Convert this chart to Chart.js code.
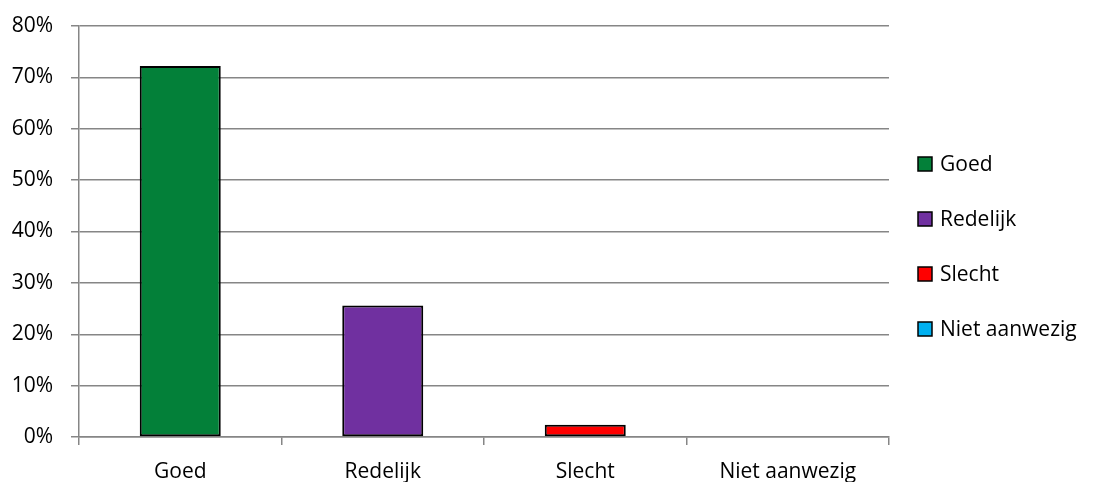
<!DOCTYPE html>
<html><head><meta charset="utf-8">
<script src="https://cdn.jsdelivr.net/npm/chart.js@4/dist/chart.umd.min.js"></script>
<style>html,body{margin:0;padding:0;background:#fff}#wrap{width:1095px;height:482px}</style>
</head><body><div id="wrap"><canvas id="c" width="1095" height="482"></canvas></div>
<script>
const categories = ['Goed', 'Redelijk', 'Slecht', 'Niet aanwezig'];
const values = [72.2, 25.6, 2.4, 0];
const colors = ['#038039', '#7030A0', '#FF0000', '#00B0F0'];
const yTicks = [0, 10, 20, 30, 40, 50, 60, 70, 80];
const FONT = '"Open Sans", Lato, sans-serif';

const legendPlugin = {
  id: 'sideLegend',
  afterDraw(chart) {
    const ctx = chart.ctx;
    ctx.save();
    const x0 = chart.chartArea.right + 29;
    const step = 55;
    const mid = 246.5;
    const y0 = mid - step * (categories.length - 1) / 2;
    ctx.font = '21px ' + FONT;
    ctx.textBaseline = 'middle';
    categories.forEach((lab, i) => {
      const y = y0 + i * step;
      ctx.fillStyle = colors[i];
      ctx.fillRect(x0, y - 7, 14, 14);
      ctx.strokeStyle = '#000';
      ctx.lineWidth = 1.5;
      ctx.strokeRect(x0, y - 7, 14, 14);
      ctx.fillStyle = '#000';
      ctx.fillText(lab, x0 + 22, y + 1);
    });
    ctx.restore();
  }
};

new Chart(document.getElementById('c'), {
  type: 'bar',
  data: {
    labels: categories,
    datasets: [{
      data: values,
      backgroundColor: colors,
      borderColor: '#000',
      borderWidth: 2,
      borderSkipped: false,
      barPercentage: 0.4,
      categoryPercentage: 1.0
    }]
  },
  options: {
    responsive: false,
    animation: false,
    layout: { padding: { top: 26, right: 206, bottom: 0, left: 0 } },
    plugins: { legend: { display: false }, tooltip: { enabled: false } },
    scales: {
      x: {
        offset: true,
        grid: { offset: true, drawOnChartArea: false, drawTicks: true, tickLength: 8, color: '#868686', lineWidth: 1.5 },
        border: { display: true, color: '#868686', width: 1.5 },
        ticks: { color: '#000', font: { family: FONT, size: 21 }, padding: 14, maxRotation: 0 },
        afterFit(s) { s.height = 45; }
      },
      y: {
        min: 0, max: 80,
        afterBuildTicks(s) { s.ticks = yTicks.map(v => ({ value: v })); },
        grid: { color: '#868686', lineWidth: 1.5, tickLength: 8, drawTicks: true },
        border: { display: true, color: '#868686', width: 1.5 },
        ticks: { color: '#000', font: { family: FONT, size: 21 }, padding: 18, callback: v => v + '%' },
        afterFit(s) { s.width = 79; s.paddingTop = 0; s.paddingBottom = 0; }
      }
    }
  },
  plugins: [legendPlugin]
});
</script>
</body></html>
